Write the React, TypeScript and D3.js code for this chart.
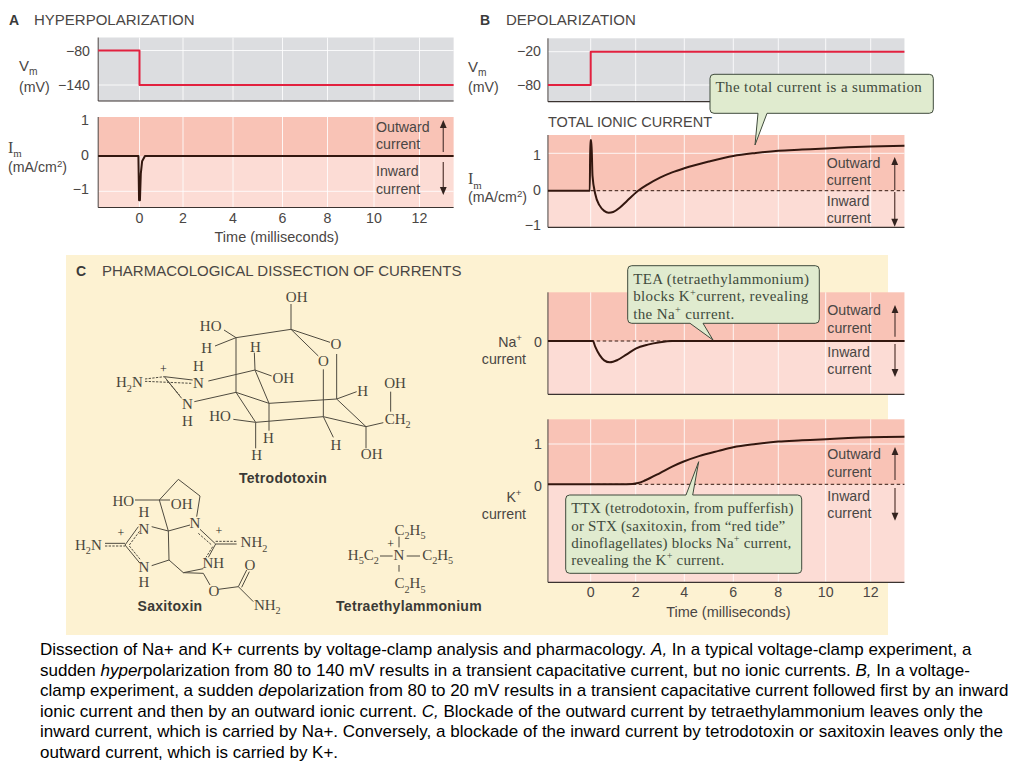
import React from 'react';
import * as d3 from 'd3';

// Time axis, shared by every current trace
const timeTicks = [0, 2, 4, 6, 8, 10, 12];
const timeStart = -1.9;
const timeEnd = 13.5;

// Traces: [time ms, value]
const hyperVm: [number, number][] = [[-1.9, -80], [0, -80], [0, -140], [13.5, -140]];
const hyperIm: [number, number][] = [[-1.9, 0], [-0.05, 0], [-0.02, -1.25], [0.02, -1.25], [0.06, -0.5], [0.12, -0.15], [0.25, 0], [13.5, 0]];
const depolVm: [number, number][] = [[-1.9, -80], [0, -80], [0, -20], [13.5, -20]];
const totalIm: [number, number][] = [
  [-1.9, 0], [-0.04, 0], [-0.02, 1.35], [0.03, 1.35], [0.08, 0.4], [0.2, -0.08], [0.4, -0.4], [0.6, -0.54], [0.8, -0.59],
  [1, -0.57], [1.3, -0.45], [1.6, -0.28], [2.1, 0], [2.5, 0.17], [3, 0.35], [3.5, 0.49], [4, 0.6], [5, 0.78], [6, 0.93],
  [7, 1.01], [8, 1.07], [9, 1.1], [10, 1.13], [11, 1.16], [12, 1.18], [13.5, 1.2],
];
const naCurrent: [number, number][] = [
  [-1.9, 0], [0.1, 0], [0.2, -0.14], [0.4, -0.35], [0.6, -0.48], [0.85, -0.53], [1.2, -0.47], [1.6, -0.33], [2, -0.19],
  [2.5, -0.09], [3, -0.03], [3.5, 0], [13.5, 0],
];
const kCurrent: [number, number][] = [
  [-1.9, 0], [1.6, 0], [2.1, 0.03], [2.4, 0.1], [3, 0.28], [3.5, 0.44], [3.95, 0.56], [4.6, 0.7], [5.4, 0.83], [6, 0.92], [7, 1],
  [8, 1.06], [9, 1.09], [10, 1.12], [11, 1.15], [12, 1.17], [13.5, 1.18],
];

const captionLines = [
  'Dissection of Na+ and K+ currents by voltage-clamp analysis and pharmacology. *A,* In a typical voltage-clamp experiment, a',
  'sudden *hyper*polarization from 80 to 140 mV results in a transient capacitative current, but no ionic currents. *B,* In a voltage-',
  'clamp experiment, a sudden *de*polarization from 80 to 20 mV results in a transient capacitative current followed first by an inward',
  'ionic current and then by an outward ionic current. *C,* Blockade of the outward current by tetraethylammonium leaves only the',
  'inward current, which is carried by Na+. Conversely, a blockade of the inward current by tetrodotoxin or saxitoxin leaves only the',
  'outward current, which is carried by K+.',
];

// Structure drawings, in their own 3x units: [x1, y1, x2, y2]
type Bond = number[];
type Atom = [string, number, number];

const ttxBonds: Bond[] = [
  [663, 72, 663, 148], [663, 148, 498, 173], [663, 148, 780, 187], [663, 148, 745, 228], [462, 150, 498, 173], [435, 198, 498, 173],
  [498, 173, 498, 337], [415, 303, 555, 270], [555, 270, 553, 218], [555, 270, 605, 288], [555, 270, 597, 370], [373, 365, 498, 337],
  [498, 337, 597, 370], [498, 337, 557, 427], [597, 370, 800, 357], [597, 370, 597, 452], [557, 427, 760, 410], [490, 418, 557, 427],
  [557, 427, 557, 505], [760, 410, 760, 268], [800, 357, 800, 222], [800, 357, 860, 335], [800, 357, 888, 440], [760, 410, 888, 440],
  [760, 410, 790, 472], [888, 440, 888, 505], [888, 440, 940, 428], [962, 395, 962, 335], [283, 290, 368, 300], [283, 290, 335, 355],
];
const ttxDashed: Bond[] = [[225, 297, 283, 290], [225, 304, 365, 310], [290, 300, 328, 345]];
const ttxAtoms: Atom[] = [
  ['OH', 680, 65], ['HO', 422, 153], ['H', 410, 220], ['H', 556, 215], ['O', 798, 208], ['O', 760, 258], ['H', 385, 272], ['N', 385, 323],
  ['OH', 640, 310], ['H', 878, 347], ['OH', 975, 323], ['H_2N', 178, 322], ['N', 352, 387], ['H', 352, 438], ['HO', 450, 422],
  ['CH_2', 983, 432], ['H', 595, 488], ['H', 798, 510], ['H', 560, 540], ['OH', 905, 538], ['+', 280, 278],
];

const stxBonds: Bond[] = [
  [268, 90, 325, 28], [325, 28, 390, 78], [390, 78, 380, 140], [268, 90, 295, 183], [195, 90, 300, 90], [245, 170, 295, 183],
  [295, 183, 360, 165], [295, 183, 297, 270], [297, 270, 245, 287], [297, 270, 340, 308], [340, 308, 400, 296], [340, 308, 400, 310],
  [400, 310, 420, 345], [445, 358, 505, 350], [505, 350, 530, 300], [515, 352, 538, 305], [505, 350, 550, 395], [165, 225, 205, 170],
  [165, 225, 210, 280], [105, 220, 165, 220], [390, 178, 437, 222], [437, 222, 415, 262], [437, 222, 500, 222],
];
const stxDashed: Bond[] = [
  [105, 228, 165, 228], [178, 225, 210, 182], [178, 228, 212, 270], [385, 190, 425, 225], [428, 230, 408, 262], [437, 214, 500, 214],
];
const stxAtoms: Atom[] = [
  ['HO', 160, 107], ['OH', 335, 118], ['H', 222, 140], ['N', 222, 192], ['N', 375, 175], ['+', 153, 200], ['+', 447, 195], ['H_2N', 55, 240],
  ['NH_2', 552, 232], ['N', 222, 305], ['NH', 430, 295], ['H', 222, 350], ['O', 540, 300], ['O', 432, 378], ['NH_2', 592, 420],
];

const teaBonds: Bond[] = [[987, 200, 987, 232], [930, 258, 968, 258], [1010, 258, 1050, 258], [987, 285, 987, 305]];
const teaAtoms: Atom[] = [
  ['C_2H_5', 1020, 195], ['H_5C_2', 880, 270], ['N', 987, 270], ['C_2H_5', 1103, 270], ['C_2H_5', 1020, 355], ['+', 962, 235],
];

const SANS = '"Liberation Sans", Arial, sans-serif';
const SERIF = '"Liberation Serif", "Times New Roman", serif';
const INK = '#4a4644';
const TRACE = '#33170f';
const RED = '#e2213f';
const GRAY = '#dcdde0';
const PINK_TOP = '#f9c3b6';
const PINK_BOTTOM = '#fcdcd5';
const CREAM = '#fdf2d2';
const GREEN = '#e0ebcf';

// The printed ticks are not quite evenly spaced, so the scale runs through them
const xA = d3.scaleLinear().domain(timeTicks).range([139.5, 183, 233, 282.5, 327.5, 374, 419.5]);
const xB = d3.scaleLinear().domain(timeTicks).range([590.7, 635.7, 684.3, 733.3, 778.3, 825.7, 870.7]);

type Scale = d3.ScaleLinear<number, number>;

// Renders x^+ and x_2 as real tspans
const Rich: React.FC<{ text: string; size: number }> = ({ text, size }) => {
  const parts = text.split(/([_^][0-9+m])/).filter(Boolean);
  let shift = 0;
  return (
    <>
      {parts.map((p, i) => {
        if (p.length === 2 && (p[0] === '_' || p[0] === '^')) {
          const d = (p[0] === '_' ? 0.28 : -0.38) * size;
          const el = <tspan key={i} dy={d - shift} fontSize={size * 0.68}>{p[1]}</tspan>;
          shift = d;
          return el;
        }
        const el = <tspan key={i} dy={-shift}>{p}</tspan>;
        shift = 0;
        return el;
      })}
    </>
  );
};

const Label: React.FC<{ x: number; y: number; text: string; anchor?: string; size?: number; weight?: string; font?: string; fill?: string; spacing?: number }> =
  ({ x, y, text, anchor = 'start', size = 14.2, weight = 'normal', font = SANS, fill = INK, spacing = 0 }) => (
    <text x={x} y={y} textAnchor={anchor} fontSize={size} fontWeight={weight} fontFamily={font} fill={fill} letterSpacing={spacing}>
      <Rich text={text} size={size} />
    </text>
  );

const Trace: React.FC<{ x: Scale; y: Scale; data: [number, number][]; color?: string; width?: number; smooth?: boolean }> =
  ({ x, y, data, color = TRACE, width = 2, smooth = false }) => {
    const line = d3.line<[number, number]>().x(d => x(d[0])).y(d => y(d[1]));
    if (smooth) line.curve(d3.curveMonotoneX);
    return <path d={line(data) || ''} fill="none" stroke={color} strokeWidth={width} strokeLinejoin="round" />;
  };

const Background: React.FC<{ x: Scale; y: Scale; top: number; bottom: number; grid: number[]; vm?: boolean }> = ({ x, y, top, bottom, grid, vm }) => {
  const x0 = x(timeStart);
  const x1 = x(timeEnd);
  return (
    <g>
      {vm ? (
        <rect x={x0} y={top} width={x1 - x0} height={bottom - top} fill={GRAY} />
      ) : (
        <>
          <rect x={x0} y={top} width={x1 - x0} height={y(0) - top} fill={PINK_TOP} />
          <rect x={x0} y={y(0)} width={x1 - x0} height={bottom - y(0)} fill={PINK_BOTTOM} />
        </>
      )}
      {timeTicks.map(t => <line key={t} x1={x(t)} x2={x(t)} y1={top} y2={bottom} stroke="#fff" strokeWidth={1} opacity={0.85} />)}
      {grid.map(v => <line key={v} x1={x0} x2={x1} y1={y(v)} y2={y(v)} stroke="#fff" strokeWidth={1} opacity={0.85} />)}
      <line x1={x0} x2={x0} y1={top} y2={bottom} stroke="#4a4340" strokeWidth={1} />
      <line x1={x0} x2={x1} y1={bottom} y2={bottom} stroke="#3a3330" strokeWidth={1.2} />
    </g>
  );
};

const Arrow: React.FC<{ x: number; from: number; to: number }> = ({ x, from, to }) => {
  const dir = to < from ? 1 : -1;
  return (
    <g>
      <line x1={x} x2={x} y1={from} y2={to + dir * 5} stroke="#6d4f49" strokeWidth={1.4} />
      <path d={`M${x},${to} L${x - 3.4},${to + dir * 8} L${x + 3.4},${to + dir * 8} Z`} fill="#33231f" />
    </g>
  );
};

// Outward / Inward legend text with both arrows
const Direction: React.FC<{ x: number; arrowX: number; lines: number[]; up: number[]; down: number[] }> = ({ x, arrowX, lines, up, down }) => (
  <g>
    <Label x={x} y={lines[0]} text="Outward" />
    <Label x={x} y={lines[1]} text="current" />
    <Label x={x} y={lines[2]} text="Inward" />
    <Label x={x} y={lines[3]} text="current" />
    <Arrow x={arrowX} from={up[0]} to={up[1]} />
    <Arrow x={arrowX} from={down[0]} to={down[1]} />
  </g>
);

const TimeAxis: React.FC<{ x: Scale; tickY: number; titleX: number; titleY: number }> = ({ x, tickY, titleX, titleY }) => (
  <g>
    {timeTicks.map(t => <Label key={t} x={x(t)} y={tickY} text={String(t)} anchor="middle" />)}
    <Label x={titleX} y={titleY} text="Time (milliseconds)" anchor="middle" size={14.5} />
  </g>
);

// tail is [left root x, tip x, tip y, right root x]
const Callout: React.FC<{ x: number; y: number; w: number; h: number; tail: number[]; lines: string[]; baselines: number[]; spacing?: number }> = ({ x, y, w, h, tail, lines, baselines, spacing = 0.38 }) => {
  const r = 4;
  const [rootL, tipX, tipY, rootR] = tail;
  const topEdge = tipY < y
    ? `L${rootL},${y} L${tipX},${tipY} L${rootR},${y} `
    : '';
  const bottomEdge = tipY > y + h
    ? `L${rootR},${y + h} L${tipX},${tipY} L${rootL},${y + h} `
    : '';
  const outline = `M${x + r},${y} ${topEdge}L${x + w - r},${y} Q${x + w},${y} ${x + w},${y + r} L${x + w},${y + h - r} Q${x + w},${y + h} ${x + w - r},${y + h} ${bottomEdge}L${x + r},${y + h} Q${x},${y + h} ${x},${y + h - r} L${x},${y + r} Q${x},${y} ${x + r},${y} Z`;
  return (
    <g>
      <path d={outline} fill={GREEN} stroke="#3f4a3c" strokeWidth={1} />
      {lines.map((l, i) => <Label key={i} x={x + 5.5} y={baselines[i]} text={l} font={SERIF} size={15} fill="#3f4a3c" spacing={spacing} />)}
    </g>
  );
};

const Molecule: React.FC<{ dx: number; dy: number; bonds: Bond[]; dashed: Bond[]; atoms: Atom[] }> = ({ dx, dy, bonds, dashed, atoms }) => (
  <g transform={`translate(${dx},${dy}) scale(${1 / 3})`}>
    {bonds.map((b, i) => <line key={i} x1={b[0]} y1={b[1]} x2={b[2]} y2={b[3]} stroke="#4f4b40" strokeWidth={3} />)}
    {dashed.map((b, i) => <line key={i} x1={b[0]} y1={b[1]} x2={b[2]} y2={b[3]} stroke="#4f4b40" strokeWidth={3} strokeDasharray="7 4" />)}
    {atoms.map((a, i) => <Label key={i} x={a[1]} y={a[2]} text={a[0]} anchor="middle" font={SERIF} size={a[0] === '+' ? 36 : 45} fill={a[0] === '+' ? '#222' : '#4a473c'} />)}
  </g>
);

const App: React.FC = () => {
  const yVmA = d3.scaleLinear().domain([-140, -80]).range([85, 50.5]);
  const yImA = d3.scaleLinear().domain([-1, 0]).range([191.3, 156]);
  const yVmB = d3.scaleLinear().domain([-80, -20]).range([85, 51.7]);
  const yImB = d3.scaleLinear().domain([0, 1]).range([190.7, 153.3]);
  const yNa = d3.scaleLinear().domain([0, 1]).range([341, 300.7]);
  const yK = d3.scaleLinear().domain([0, 1]).range([484.3, 444]);

  const zero = (x: Scale, y: Scale, from: number) => (
    <line x1={x(from)} x2={x(timeEnd)} y1={y(0)} y2={y(0)} stroke={TRACE} strokeWidth={1} strokeDasharray="3.5 2.5" />
  );

  return (
    <svg width={1024} height={768} style={{ position: 'absolute', left: 0, top: 0, display: 'block', background: '#fff' }}>
      {/* A */}
      <Label x={9} y={25} text="A" weight="bold" size={14} fill="#3a3a3a" />
      <Label x={34} y={25} text="HYPERPOLARIZATION" size={15} />
      <Background x={xA} y={yVmA} top={37.5} bottom={101} grid={[-80, -140]} vm />
      <Trace x={xA} y={yVmA} data={hyperVm} color={RED} />
      <Label x={19} y={71} text="V_m" size={15} />
      <Label x={19} y={92} text="(mV)" />
      <Label x={90} y={56} text="−80" anchor="end" />
      <Label x={90} y={90} text="−140" anchor="end" />

      <Background x={xA} y={yImA} top={117} bottom={207.5} grid={[-1]} />
      <Trace x={xA} y={yImA} data={hyperIm} />
      <Label x={8} y={153} text="I_m" font={SERIF} size={16} />
      <Label x={8} y={172} text="(mA/cm^2)" />
      <Label x={89} y={125} text="1" anchor="end" />
      <Label x={89} y={160} text="0" anchor="end" />
      <Label x={89} y={194} text="−1" anchor="end" />
      <Direction x={376} arrowX={443.3} lines={[131.7, 149, 175.7, 193.5]} up={[152, 120]} down={[162, 195]} />
      <TimeAxis x={xA} tickY={222.7} titleX={276.7} titleY={241.7} />

      {/* B */}
      <Label x={480} y={25} text="B" weight="bold" size={14} fill="#3a3a3a" />
      <Label x={506} y={25} text="DEPOLARIZATION" size={15} />
      <Background x={xB} y={yVmB} top={38.3} bottom={101.7} grid={[-20, -80]} vm />
      <Trace x={xB} y={yVmB} data={depolVm} color={RED} />
      <Label x={468} y={72} text="V_m" size={15} />
      <Label x={468} y={92} text="(mV)" />
      <Label x={541} y={56} text="−20" anchor="end" />
      <Label x={541} y={90} text="−80" anchor="end" />

      <Label x={548} y={127} text="TOTAL IONIC CURRENT" size={14.5} />
      <Background x={xB} y={yImB} top={135} bottom={227.3} grid={[1]} />
      {zero(xB, yImB, 0)}
      <Trace x={xB} y={yImB} data={totalIm} smooth />
      <Label x={468} y={184.3} text="I_m" font={SERIF} size={16} />
      <Label x={468} y={202} text="(mA/cm^2)" />
      <Label x={541} y={160} text="1" anchor="end" />
      <Label x={541} y={195} text="0" anchor="end" />
      <Label x={541} y={230} text="−1" anchor="end" />
      <Direction x={826.7} arrowX={894.7} lines={[167.7, 185, 206, 223]} up={[190, 157]} down={[192, 226.7]} />
      <Callout x={710} y={74.3} w={223.3} h={39} tail={[758, 755, 145, 767]} lines={['The total current is a summation']} baselines={[92]} />

      {/* C */}
      <rect x={66} y={255} width={822} height={380} fill={CREAM} />
      <Label x={76} y={276} text="C" weight="bold" size={14} fill="#3a3a3a" />
      <Label x={102} y={276} text="PHARMACOLOGICAL DISSECTION OF CURRENTS" size={15} />

      <Molecule dx={70} dy={280} bonds={ttxBonds} dashed={ttxDashed} atoms={ttxAtoms} />
      <Molecule dx={70} dy={470} bonds={stxBonds} dashed={stxDashed} atoms={stxAtoms} />
      <Molecule dx={70} dy={470} bonds={teaBonds} dashed={[]} atoms={teaAtoms} />
      <Label x={283} y={483} text="Tetrodotoxin" anchor="middle" weight="bold" size={14} fill="#3a3a36" spacing={0.3} />
      <Label x={170} y={610.5} text="Saxitoxin" anchor="middle" weight="bold" size={14} fill="#3a3a36" spacing={0.3} />
      <Label x={409} y={610.5} text="Tetraethylammonium" anchor="middle" weight="bold" size={14} fill="#3a3a36" spacing={0.3} />

      <Background x={xB} y={yNa} top={292.3} bottom={394.3} grid={[]} />
      {zero(xB, yNa, 0)}
      <Trace x={xB} y={yNa} data={naCurrent} smooth />
      <Label x={522} y={346.7} text="Na^+" anchor="end" />
      <Label x={526} y={364} text="current" anchor="end" />
      <Label x={542} y={346.7} text="0" anchor="end" />
      <Direction x={827.3} arrowX={895} lines={[315, 332.7, 356.7, 374]} up={[336.7, 305]} down={[344, 377]} />
      <Callout x={627.7} y={265.7} w={191.6} h={57.6} tail={[690, 713, 340, 703]}
        lines={['TEA (tetraethylammonium)', 'blocks K^+current, revealing', 'the Na^+ current.']} baselines={[284, 301.3, 318.5]} />

      <Background x={xB} y={yK} top={419.3} bottom={582.3} grid={[1]} />
      {zero(xB, yK, 0)}
      <Trace x={xB} y={yK} data={kCurrent} smooth />
      <Label x={521.5} y={501.7} text="K^+" anchor="end" />
      <Label x={526} y={519.3} text="current" anchor="end" />
      <Label x={542} y={449} text="1" anchor="end" />
      <Label x={542} y={490.7} text="0" anchor="end" />
      <Direction x={827.3} arrowX={895} lines={[459, 476.7, 500.7, 517.7]} up={[480, 447]} down={[488, 520.7]} />
      <Callout x={565.7} y={495} w={236} h={78.3} tail={[686, 698.7, 461.7, 692.7]} spacing={0.2}
        lines={['TTX (tetrodotoxin, from pufferfish)', 'or STX (saxitoxin, from “red tide”', 'dinoflagellates) blocks Na^+ current,', 'revealing the K^+ current.']}
        baselines={[513.3, 530.5, 548, 565]} />
      <TimeAxis x={xB} tickY={596.7} titleX={728.3} titleY={616.7} />

      {/* Caption */}
      {captionLines.map((l, i) => (
        <text key={i} x={40} y={655 + i * 20.6} fontFamily={SANS} fontSize={17} fill="#000">
          {l.split('*').map((s, j) => <tspan key={j} fontStyle={j % 2 ? 'italic' : 'normal'}>{s}</tspan>)}
        </text>
      ))}
    </svg>
  );
};

export default App;
